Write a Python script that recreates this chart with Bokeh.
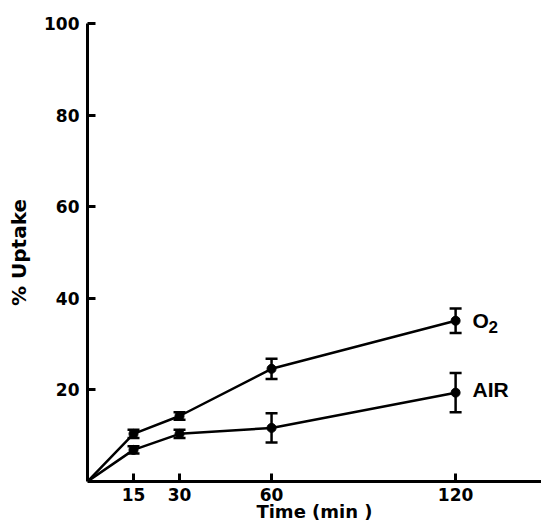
from bokeh.plotting import figure
from bokeh.models import Range1d, FixedTicker, ColumnDataSource, Whisker, TeeHead, Label
from bokeh.embed import file_html
from bokeh.resources import INLINE

# ---- data ----
time_min = [0, 15, 30, 60, 120]
o2_uptake = [0, 10.4, 14.3, 24.6, 35.1]
o2_err = [0, 0.9, 0.8, 2.2, 2.7]
air_uptake = [0, 6.9, 10.4, 11.7, 19.4]
air_err = [0, 0.8, 0.9, 3.2, 4.3]
x_ticks = [15, 30, 60, 120]
y_ticks = [20, 40, 60, 80, 100]

p = figure(width=541, height=527, output_backend="svg", toolbar_location=None,
           x_range=Range1d(0, 148), y_range=Range1d(0, 100),
           min_border_left=87, min_border_right=0, min_border_top=23, min_border_bottom=46)
p.outline_line_color = None
p.background_fill_color = "white"
p.border_fill_color = "white"
p.xgrid.visible = False
p.ygrid.visible = False

num_font = "DejaVu Sans"
for ax in (p.xaxis[0], p.yaxis[0]):
    ax.axis_line_width = 3
    ax.axis_line_color = "black"
    ax.major_tick_line_width = 3
    ax.major_tick_line_color = "black"
    ax.major_tick_in = 8
    ax.major_tick_out = 0
    ax.minor_tick_line_color = None
    ax.major_label_text_font = num_font
    ax.major_label_text_font_style = "bold"
    ax.major_label_text_font_size = "17px"
    ax.major_label_text_color = "black"
    ax.axis_label_text_font = num_font
    ax.axis_label_text_font_style = "bold"
    ax.axis_label_text_color = "black"

p.xaxis[0].ticker = FixedTicker(ticks=x_ticks)
p.yaxis[0].ticker = FixedTicker(ticks=y_ticks)
p.xaxis[0].axis_label = "Time (min )"
p.xaxis[0].axis_label_text_font_size = "18px"
p.xaxis[0].major_label_standoff = 6
p.xaxis[0].axis_label_standoff = -3
p.yaxis[0].axis_label = "% Uptake"
p.yaxis[0].axis_label_text_font_size = "20px"
p.yaxis[0].major_label_standoff = 8
p.yaxis[0].axis_label_standoff = 10

series = [(o2_uptake, o2_err), (air_uptake, air_err)]
for vals, errs in series:
    p.line(time_min, vals, line_color="black", line_width=2.5)
    src = ColumnDataSource(dict(
        x=time_min[1:], y=vals[1:],
        upper=[v + e for v, e in zip(vals[1:], errs[1:])],
        lower=[v - e for v, e in zip(vals[1:], errs[1:])]))
    p.add_layout(Whisker(source=src, base="x", upper="upper", lower="lower",
                         dimension="height", line_color="black", line_width=2.5,
                         upper_head=TeeHead(size=12, line_width=2.5, line_color="black"),
                         lower_head=TeeHead(size=12, line_width=2.5, line_color="black")))
    p.scatter("x", "y", source=src, size=9, color="black")

# series labels
lab = dict(text_font="Liberation Sans", text_font_style="bold", text_baseline="middle",
           text_color="black")
p.add_layout(Label(x=125.5, y=35.1, text="O", text_font_size="21px", **lab))
p.add_layout(Label(x=125.5, y=35.1, text="2", text_font_size="17px",
                   x_offset=16, y_offset=-6, **lab))
p.add_layout(Label(x=125.5, y=20.0, text="AIR", text_font_size="21px", **lab))

open("out.html", "w").write(file_html(p, INLINE))
